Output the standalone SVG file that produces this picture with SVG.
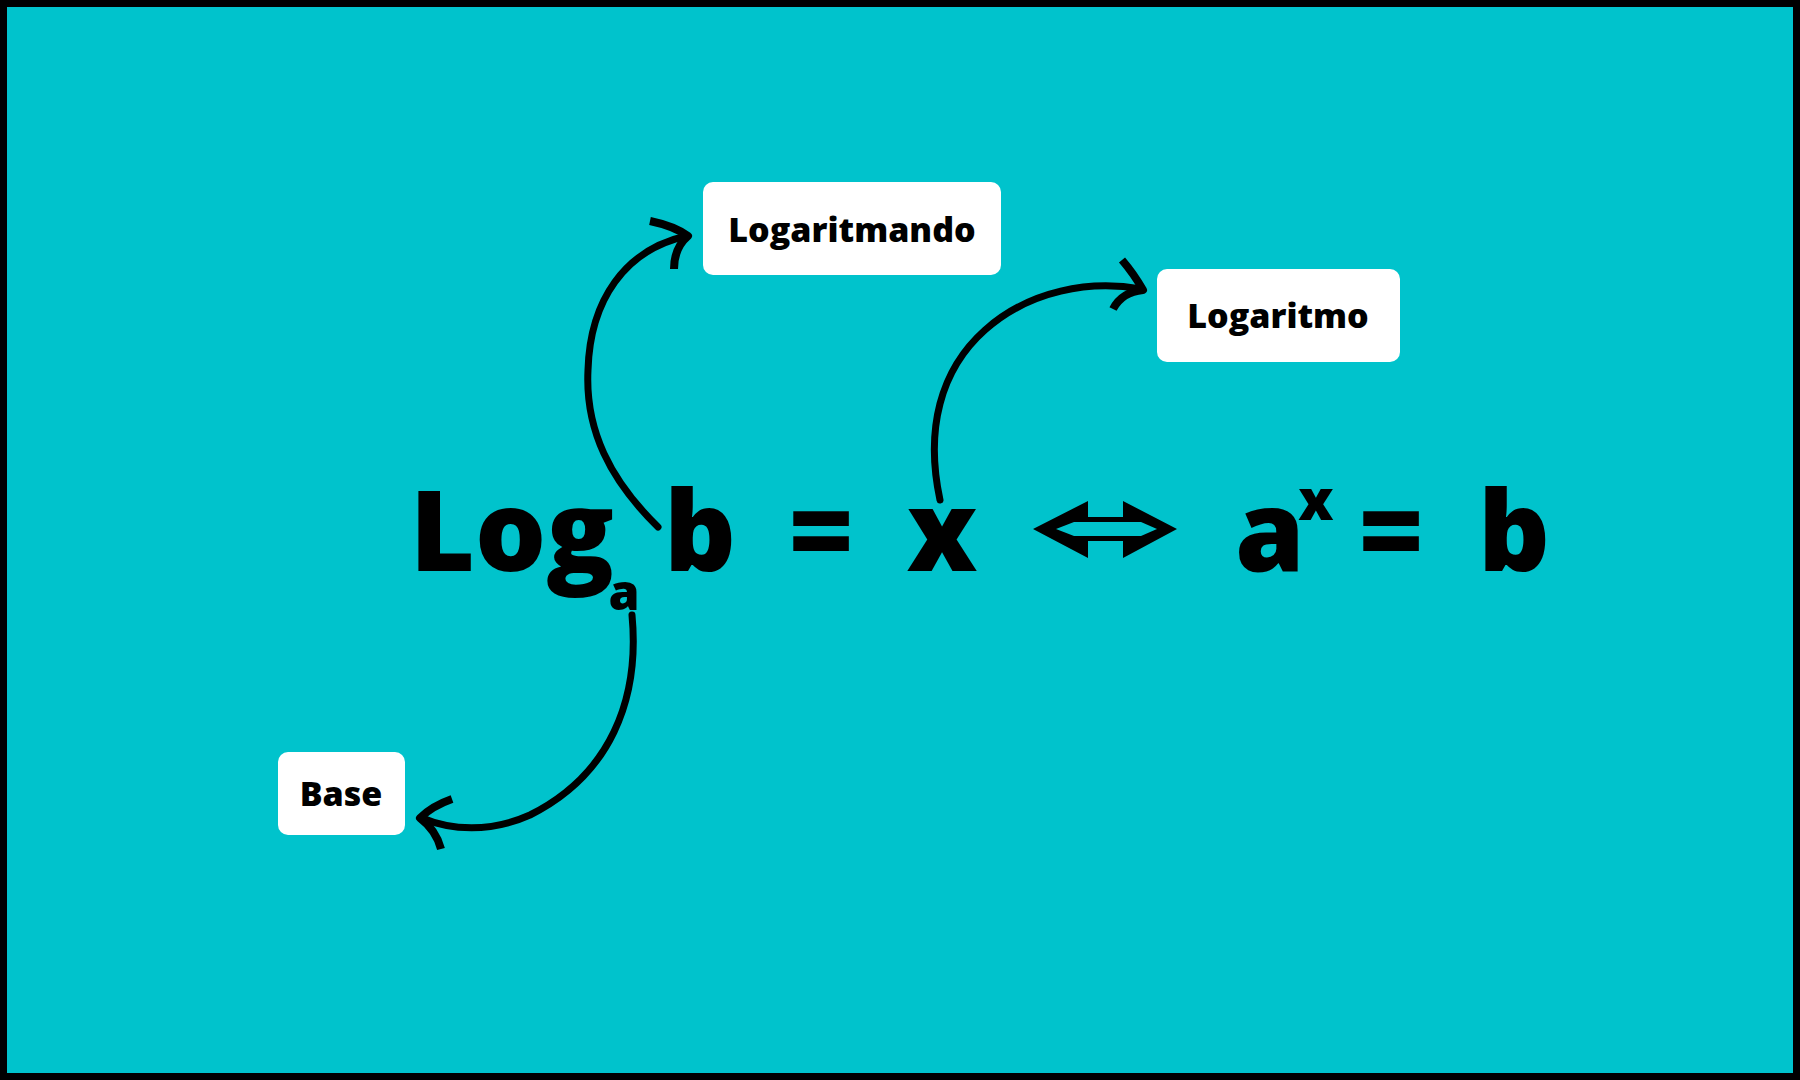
<svg xmlns="http://www.w3.org/2000/svg" width="1800" height="1080" viewBox="0 0 1800 1080">
  <style>
    .eq { font-family: "Open Sans", "Liberation Sans", sans-serif; font-weight: 800; fill: #000; text-anchor: middle; }
    .box { fill: #ffffff; }
    .lbl { font-family: "Open Sans", "Liberation Sans", sans-serif; font-weight: 800; font-size: 34px; fill: #000; text-anchor: middle; }
    .conn { fill: none; stroke: #000; stroke-width: 7; stroke-linecap: round; stroke-linejoin: round; }
    .head { fill: none; stroke: #000; stroke-width: 8; stroke-linecap: butt; stroke-linejoin: round; }
  </style>
  <rect x="3.5" y="3.5" width="1793" height="1073" fill="#00C3CC" stroke="#000" stroke-width="7"/>

  <g id="equation">
    <text class="eq" x="512" y="571" font-size="112">Log</text>
    <text class="eq" x="624" y="610" font-size="50">a</text>
    <text class="eq" x="700" y="571" font-size="112">b</text>
    <text class="eq" x="821" y="571" font-size="112">=</text>
    <text class="eq" x="942" y="571" font-size="112">x</text>
    <g id="iff">
      <path d="M1033,529 L1088,501 L1088,517 L1123,517 L1123,501 L1177,529 L1123,558 L1123,541 L1088,541 L1088,558 Z" fill="#000"/>
      <path d="M1056,529 L1074,522 L1141,522 L1157,529 L1141,536 L1074,536 Z" fill="#00C3CC"/>
    </g>
    <text class="eq" x="1270" y="571" font-size="112">a</text>
    <text class="eq" x="1316" y="520" font-size="56">x</text>
    <text class="eq" x="1391" y="571" font-size="112">=</text>
    <text class="eq" x="1514" y="571" font-size="112">b</text>
  </g>

  <g id="node-logaritmando">
    <rect class="box" x="703" y="182" width="298" height="93" rx="10"/>
    <text class="lbl" x="852" y="242">Logaritmando</text>
  </g>
  <g id="node-logaritmo">
    <rect class="box" x="1157" y="269" width="243" height="93" rx="10"/>
    <text class="lbl" x="1278" y="328">Logaritmo</text>
  </g>
  <g id="node-base">
    <rect class="box" x="278" y="752" width="127" height="83" rx="10"/>
    <text class="lbl" x="341" y="806">Base</text>
  </g>

  <g id="connectors">
    <path class="conn" d="M658,527 C610,480 585,430 588,370 C590,300 625,250 686,236"/>
    <path class="head" d="M650,221 Q674,226 688,236 Q674,248 674,269"/>
    <path class="conn" d="M940,500 C925,430 940,370 985,330 C1030,290 1090,280 1141,289"/>
    <path class="head" d="M1122,260 Q1134,274 1143,290 Q1122,292 1113,309"/>
    <path class="conn" d="M632,615 C640,700 610,775 530,815 C490,833 450,830 422,818"/>
    <path class="head" d="M452,799 Q432,806 420,818 Q436,830 441,849"/>
  </g>
</svg>
